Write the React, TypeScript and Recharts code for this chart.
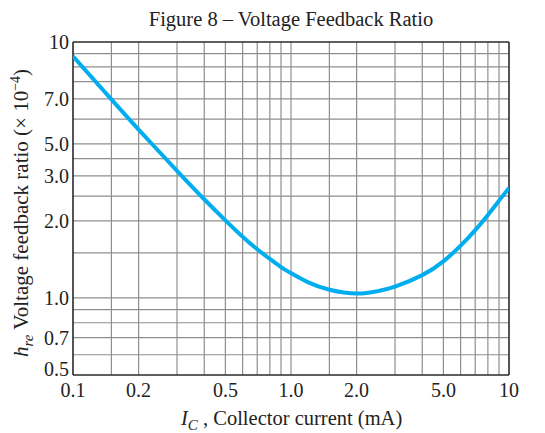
// App.tsx
// Log-log chart of h_re (voltage feedback ratio) against collector current (Recharts)

import { LineChart, Line, XAxis, YAxis, ReferenceLine, Label } from 'recharts'

const current = [0.1, 0.15, 0.2, 0.3, 0.4, 0.5, 0.6, 0.7, 0.8, 0.9, 1, 1.2, 1.5, 2, 2.5, 3, 4, 5, 6, 7, 8, 9, 10]
const hre = [8.8, 5.97, 4.55, 3.14, 2.43, 2.01, 1.735, 1.55, 1.42, 1.32, 1.25, 1.15, 1.077, 1.04, 1.063, 1.107, 1.228, 1.39, 1.6, 1.84, 2.11, 2.4, 2.69]

const xTicks = [0.1, 0.2, 0.5, 1, 2, 5, 10]
const xTickLabels = ['0.1', '0.2', '0.5', '1.0', '2.0', '5.0', '10']
const yTicks = [0.5, 0.7, 1, 2, 3, 4, 6, 10]
const yTickLabels = ['0.5', '0.7', '1.0', '2.0', '3.0', '5.0', '7.0', '10']

const xGrid = [0.15, 0.2, 0.3, 0.4, 0.5, 0.6, 0.7, 0.8, 0.9, 1, 1.5, 2, 3, 4, 5, 6, 7, 8, 9]
const yGrid = [0.6, 0.7, 0.8, 0.9, 1, 1.5, 2, 2.5, 3, 3.5, 4, 5, 6, 7, 8, 9]

const data = current.map((ic, i) => ({ ic, hre: hre[i] }))

const FONT = '"Liberation Serif", "Times New Roman", serif'
const GRID = '#8f8f8f'
const BORDER = '#2a2a2a'
const CURVE = '#00aeef'
const TEXT = '#222'

function XTick({ x, y, payload }: any) {
  return (
    <text x={x} y={y + 22} textAnchor="middle" fontFamily={FONT} fontSize={20} fill={TEXT}>
      {xTickLabels[xTicks.indexOf(payload.value)]}
    </text>
  )
}

function YTick({ x, y, payload }: any) {
  // bottom label sits a little higher so it clears the x-axis labels
  const dy = payload.value === yTicks[0] ? 1 : 7
  return (
    <text x={x - 4} y={y + dy} textAnchor="end" fontFamily={FONT} fontSize={20} fill={TEXT}>
      {yTickLabels[yTicks.indexOf(payload.value)]}
    </text>
  )
}

function XTitle() {
  return (
    <text x={181} y={425} textAnchor="start" fontFamily={FONT} fontSize={20.5} fill={TEXT}>
      <tspan fontStyle="italic">I</tspan>
      <tspan fontStyle="italic" fontSize={15} dy={5}>C</tspan>
      <tspan dy={-5}> , Collector current (mA)</tspan>
    </text>
  )
}

function YTitle() {
  const x = 28
  const y = 357
  return (
    <text
      x={x}
      y={y}
      textAnchor="start"
      transform={`rotate(-90, ${x}, ${y})`}
      fontFamily={FONT}
      fontSize={21}
      fill={TEXT}
    >
      <tspan fontStyle="italic">h</tspan>
      <tspan fontStyle="italic" fontSize={15} dy={5}>re</tspan>
      <tspan dy={-5}> Voltage feedback ratio (× 10</tspan>
      <tspan fontSize={14} dy={-8}>−4</tspan>
      <tspan dy={8}>)</tspan>
    </text>
  )
}

export default function App() {
  return (
    <div style={{ position: 'absolute', left: 0, top: 0, width: 545, height: 433, background: '#fff' }}>
      <svg width={545} height={40} style={{ position: 'absolute', left: 0, top: 0 }}>
        <text x={291} y={26} textAnchor="middle" fontFamily={FONT} fontSize={20.5} fill={TEXT}>
          Figure 8 – Voltage Feedback Ratio
        </text>
      </svg>
      <div style={{ position: 'absolute', left: 0, top: 0 }}>
        <LineChart width={545} height={433} data={data} margin={{ top: 42, right: 36, left: 0, bottom: 0 }}>
          <XAxis
            dataKey="ic"
            type="number"
            scale="log"
            domain={[0.1, 10]}
            ticks={xTicks}
            tick={<XTick />}
            tickLine={false}
            tickSize={0}
            tickMargin={0}
            axisLine={false}
            height={58}
            interval={0}
            allowDataOverflow
          >
            <Label content={XTitle} />
          </XAxis>
          <YAxis
            type="number"
            scale="log"
            domain={[0.5, 10]}
            ticks={yTicks}
            tick={<YTick />}
            tickLine={false}
            tickSize={0}
            tickMargin={0}
            axisLine={false}
            width={73}
            interval={0}
            allowDataOverflow
          >
            <Label content={YTitle} />
          </YAxis>
          {xGrid.map(v => (
            <ReferenceLine key={'x' + v} x={v} stroke={GRID} strokeWidth={1.2} />
          ))}
          {yGrid.map(v => (
            <ReferenceLine key={'y' + v} y={v} stroke={GRID} strokeWidth={1.2} />
          ))}
          <ReferenceLine x={0.1} stroke={BORDER} strokeWidth={1.6} />
          <ReferenceLine x={10} stroke={BORDER} strokeWidth={1.6} />
          <ReferenceLine y={0.5} stroke={BORDER} strokeWidth={1.6} />
          <ReferenceLine y={10} stroke={BORDER} strokeWidth={1.6} />
          <Line
            type="natural"
            dataKey="hre"
            stroke={CURVE}
            strokeWidth={4}
            dot={false}
            isAnimationActive={false}
          />
        </LineChart>
      </div>
    </div>
  )
}
